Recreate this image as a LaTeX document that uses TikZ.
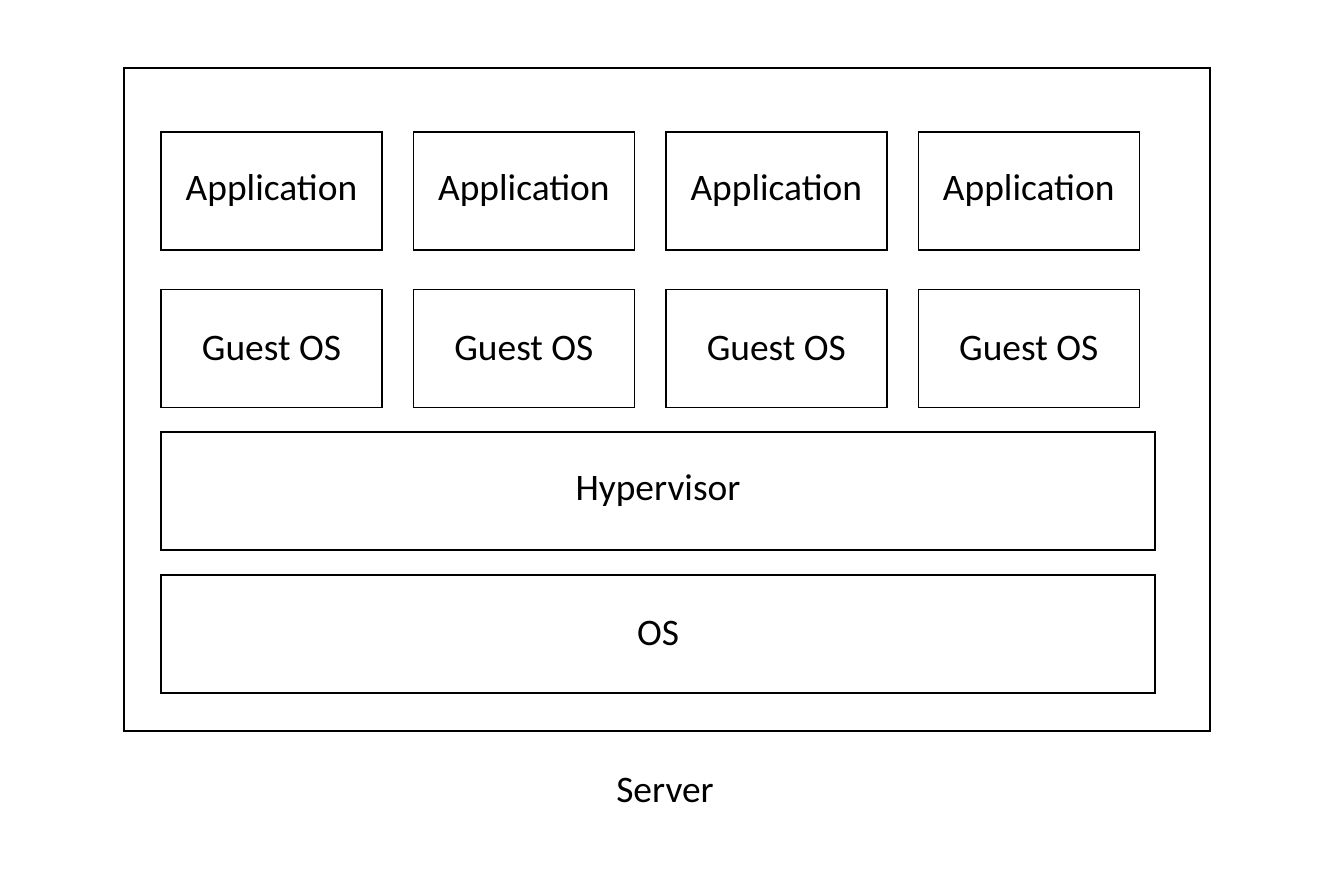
\documentclass[tikz,border=0pt]{standalone}
\usepackage{fontspec}
\setmainfont{Carlito}
\usetikzlibrary{positioning}
\tikzset{%
            base/.style = {rectangle, draw=black, line width=0.8pt,
                           minimum width=4.42cm, minimum height=2.36cm,
                           inner sep=0pt, text centered,
                           font=\fontsize{21.3}{25}\selectfont},
  box0/.style = {base, minimum width=21.72cm, minimum height=13.26cm},
  box1/.style = {base},
  box2/.style = {base, minimum width=19.88cm},
  void/.style = {font=\fontsize{21.3}{25}\selectfont},
}
\begin{document}
\begin{tikzpicture}[node distance=0.60cm]
  \useasboundingbox (0,0) rectangle (26.56,-17.76);

  \node (onServerBox) [box0] at (13.34,-7.99) {};
  \node (onServer)    [void] at (13.30,-15.80) {Server};

  \node (onApp1)   [box1] at (5.43,-3.82)   {Application};
  \node (onApp2)   [box1, right=of onApp1]  {Application};
  \node (onApp3)   [box1, right=of onApp2]  {Application};
  \node (onApp4)   [box1, right=of onApp3]  {Application};

  \node (onGuest1) [box1, below=0.76cm of onApp1] {Guest OS};
  \node (onGuest2) [box1, below=0.76cm of onApp2] {Guest OS};
  \node (onGuest3) [box1, below=0.76cm of onApp3] {Guest OS};
  \node (onGuest4) [box1, below=0.76cm of onApp4] {Guest OS};

  \node (onHyper)  [box2] at (13.16,-9.82)  {Hypervisor};
  \node (onOS)     [box2, below=0.47cm of onHyper] {OS};
\end{tikzpicture}
\end{document}
